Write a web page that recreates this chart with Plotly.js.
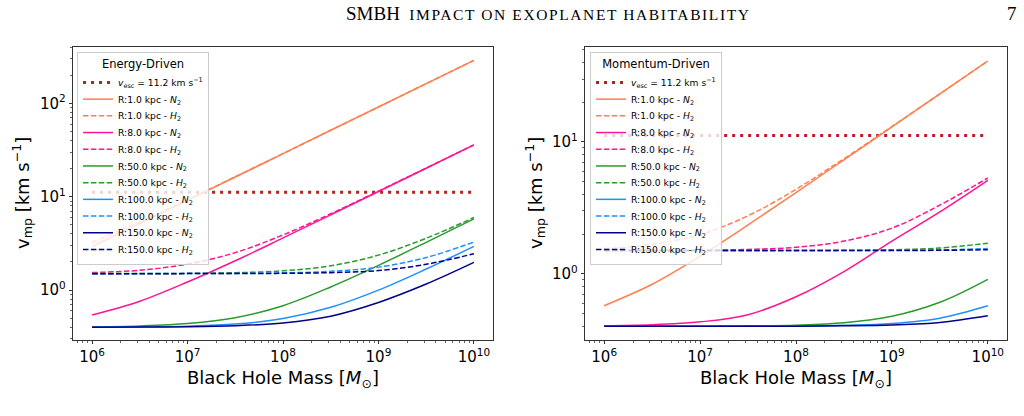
<!DOCTYPE html>
<html>
<head>
<meta charset="utf-8">
<script src="https://cdn.plot.ly/plotly-3.0.1.min.js"></script>
<style>html,body{margin:0;padding:0;background:#fff;}#chart{width:1024px;height:416px;}</style>
</head>
<body>
<div id="chart"></div>
<script>
// Black hole masses (half-decade steps)
const mass = [1e6, 3.162e6, 1e7, 3.162e7, 1e8, 3.162e8, 1e9, 3.162e9, 1e10];
const vescX = [1e6, 1e10];
const vescY = [11.2, 11.2];
const radii = ["1.0", "8.0", "50.0", "100.0", "150.0"];
const colors = ["#ff7f50", "#ff1493", "#2a9a2a", "#1e90ff", "#00008b"];

// Energy-driven
const energyN2 = [
  [2.93, 5.17, 9.18, 16.3, 29.0, 51.6, 91.7, 163, 290],
  [0.54, 0.76, 1.22, 2.06, 3.62, 6.41, 11.4, 20.2, 36.0],
  [0.404, 0.413, 0.438, 0.505, 0.68, 1.08, 1.84, 3.25, 5.8],
  [0.401, 0.403, 0.410, 0.432, 0.495, 0.654, 1.00, 1.68, 2.94],
  [0.400, 0.401, 0.404, 0.415, 0.444, 0.525, 0.736, 1.16, 1.98]
];
const energyH2 = [
  [3.26, 5.37, 9.29, 16.4, 29.0, 51.6, 91.7, 163, 290],
  [1.54, 1.63, 1.90, 2.52, 3.90, 6.57, 11.5, 20.3, 36.0],
  [1.501, 1.504, 1.511, 1.535, 1.608, 1.82, 2.37, 3.59, 5.99],
  [1.500, 1.501, 1.503, 1.509, 1.528, 1.588, 1.762, 2.23, 3.27],
  [1.500, 1.500, 1.501, 1.504, 1.512, 1.538, 1.62, 1.89, 2.45]
];
// Momentum-driven
const momentumN2 = [
  [0.573, 0.833, 1.36, 2.35, 4.13, 7.32, 13.0, 23.1, 41.1],
  [0.403, 0.410, 0.432, 0.49, 0.67, 1.04, 1.77, 2.95, 5.12],
  [0.400, 0.400, 0.401, 0.403, 0.408, 0.425, 0.476, 0.608, 0.908],
  [0.400, 0.400, 0.400, 0.401, 0.402, 0.407, 0.420, 0.461, 0.572],
  [0.400, 0.400, 0.400, 0.400, 0.401, 0.403, 0.409, 0.427, 0.480]
];
const momentumH2 = [
  [1.555, 1.669, 1.985, 2.755, 4.375, 7.46, 13.09, 23.16, 41.13],
  [1.500, 1.503, 1.509, 1.53, 1.59, 1.77, 2.22, 3.32, 5.33],
  [1.500, 1.500, 1.500, 1.501, 1.502, 1.507, 1.522, 1.569, 1.707],
  [1.500, 1.500, 1.500, 1.500, 1.501, 1.502, 1.506, 1.518, 1.555],
  [1.500, 1.500, 1.500, 1.500, 1.500, 1.501, 1.502, 1.507, 1.523]
];
const xTickVals = [1e6, 1e7, 1e8, 1e9, 1e10];
const xTickText = ["10<sup>6</sup>", "10<sup>7</sup>", "10<sup>8</sup>", "10<sup>9</sup>", "10<sup>10</sup>"];
const yTickVals = [1, 10, 100];
const yTickText = ["10<sup>0</sup>", "10<sup>1</sup>", "10<sup>2</sup>"];

const W = 1024, H = 416;
const traces = [];
function addPanel(n2, h2, xa, ya, leg) {
  traces.push({x: vescX, y: vescY, xaxis: xa, yaxis: ya, legend: leg, mode: 'lines',
    name: '<i>v</i><sub>esc</sub> = 11.2 km s<sup>−1</sup>',
    line: {color: '#b22222', width: 3, dash: '3px,5px'}});
  for (let i = 0; i < radii.length; i++) {
    traces.push({x: mass, y: n2[i], xaxis: xa, yaxis: ya, legend: leg, mode: 'lines',
      name: 'R:' + radii[i] + ' kpc - <i>N</i><sub>2</sub>',
      line: {color: colors[i], width: 1.5, shape: 'spline', smoothing: 1}});
    traces.push({x: mass, y: h2[i], xaxis: xa, yaxis: ya, legend: leg, mode: 'lines',
      name: 'R:' + radii[i] + ' kpc - <i>H</i><sub>2</sub>',
      line: {color: colors[i], width: 1.5, dash: '5.5px,2.4px', shape: 'spline', smoothing: 1}});
  }
}
addPanel(energyN2, energyH2, 'x', 'y', 'legend');
addPanel(momentumN2, momentumH2, 'x2', 'y2', 'legend2');

const minorVals = [];
for (let d = -1; d <= 10; d++) for (let k = 2; k <= 9; k++) minorVals.push(k * Math.pow(10, d));

const tickFont = {family: 'DejaVu Sans', size: 15, color: '#000'};
function xAxis(dom, anchor) {
  return {type: 'log', domain: dom, anchor: anchor, range: [5.8, 10.2],
    tickvals: xTickVals, ticktext: xTickText, tickfont: tickFont,
    ticks: 'outside', ticklen: 3.5, tickwidth: 0.8, tickcolor: '#000',
    minor: {tickmode: 'array', tickvals: minorVals, ticks: 'outside', ticklen: 2, tickwidth: 0.6, tickcolor: '#000', showgrid: false},
    showgrid: false, zeroline: false, showline: true, mirror: true, linecolor: '#000', linewidth: 0.8,
    title: {text: 'Black Hole Mass [<i>M</i><sub>⊙</sub>]', font: {family: 'DejaVu Sans', size: 18, color: '#000'}, standoff: 6}};
}
function yAxis(dom, anchor, range) {
  return {type: 'log', domain: dom, anchor: anchor, range: range,
    tickvals: yTickVals, ticktext: yTickText, tickfont: tickFont,
    ticks: 'outside', ticklen: 3.5, tickwidth: 0.8, tickcolor: '#000',
    minor: {tickmode: 'array', tickvals: minorVals, ticks: 'outside', ticklen: 2, tickwidth: 0.6, tickcolor: '#000', showgrid: false},
    showgrid: false, zeroline: false, showline: true, mirror: true, linecolor: '#000', linewidth: 0.8};
}
const yDom = [1 - 340 / H, 1 - 47 / H];
const legStyle = (x, title) => ({x: x, y: 1 - 52 / H, xref: 'paper', yref: 'paper', xanchor: 'left', yanchor: 'top',
  bgcolor: 'rgba(255,255,255,0.8)', bordercolor: '#cccccc', borderwidth: 1,
  font: {family: 'DejaVu Sans', size: 9.2, color: '#000'},
  title: {text: title, side: 'top center', font: {family: 'DejaVu Sans', size: 11.5, color: '#000'}},
  tracegroupgap: 0, itemwidth: 30});

const layout = {
  width: W, height: H, margin: {l: 0, r: 0, t: 0, b: 0},
  paper_bgcolor: '#fff', plot_bgcolor: '#fff', showlegend: true,
  xaxis: xAxis([73 / W, 493 / W], 'y'),
  yaxis: yAxis(yDom, 'x', [-0.535, 2.605]),
  xaxis2: xAxis([585 / W, 1007 / W], 'y2'),
  yaxis2: yAxis(yDom, 'x2', [-0.502, 1.72]),
  legend: legStyle(77 / W, 'Energy-Driven'),
  legend2: legStyle(590 / W, 'Momentum-Driven'),
  annotations: [
    {text: 'SMBH&nbsp; <span style="font-size:15.5px;letter-spacing:1.6px">IMPACT ON EXOPLANET HABITABILITY</span>', xref: 'paper', yref: 'paper',
     x: 548 / W, y: 1 - 13 / H, xanchor: 'center', yanchor: 'middle', showarrow: false,
     font: {family: 'Liberation Serif', size: 19, color: '#000'}},
    {text: '7', xref: 'paper', yref: 'paper', x: 1012 / W, y: 1 - 13 / H, xanchor: 'center', yanchor: 'middle', showarrow: false,
     font: {family: 'Liberation Serif', size: 19, color: '#000'}},
    {text: 'v<sub>mp</sub> [km s<sup>−1</sup>]', xref: 'paper', yref: 'paper', x: 22 / W, y: 1 - 193 / H,
     xanchor: 'center', yanchor: 'middle', textangle: -90, showarrow: false, font: {family: 'DejaVu Sans', size: 18, color: '#000'}},
    {text: 'v<sub>mp</sub> [km s<sup>−1</sup>]', xref: 'paper', yref: 'paper', x: 535 / W, y: 1 - 193 / H,
     xanchor: 'center', yanchor: 'middle', textangle: -90, showarrow: false, font: {family: 'DejaVu Sans', size: 18, color: '#000'}}
  ]
};

// Tighten legend row spacing to match the reference (Plotly enforces a taller minimum row)
function tightenLegends(gd) {
  const target = 16.7;
  ['legend', 'legend2'].forEach(function (id) {
    const g = gd.querySelector('g.' + id);
    if (!g) return;
    const items = Array.from(g.querySelectorAll('g.traces'));
    if (items.length < 2) return;
    const parse = function (el) {
      const m = /translate\(\s*([-\d.e]+)[ ,]+([-\d.e]+)\s*\)/.exec(el.getAttribute('transform') || '');
      return m ? [parseFloat(m[1]), parseFloat(m[2])] : null;
    };
    const p0 = parse(items[0]), p1 = parse(items[1]);
    if (!p0 || !p1) return;
    const step = p1[1] - p0[1];
    if (!(step > target)) return;
    items.forEach(function (el, i) {
      const p = parse(el);
      if (p) el.setAttribute('transform', 'translate(' + p[0] + ',' + (p0[1] + i * target) + ')');
    });
    const shrink = (items.length - 1) * (step - target);
    const bg = g.querySelector('rect.bg');
    if (bg) bg.setAttribute('height', parseFloat(bg.getAttribute('height')) - shrink);
  });
}
Plotly.newPlot('chart', traces, layout, {displayModeBar: false, staticPlot: true}).then(tightenLegends);
</script>
</body>
</html>
